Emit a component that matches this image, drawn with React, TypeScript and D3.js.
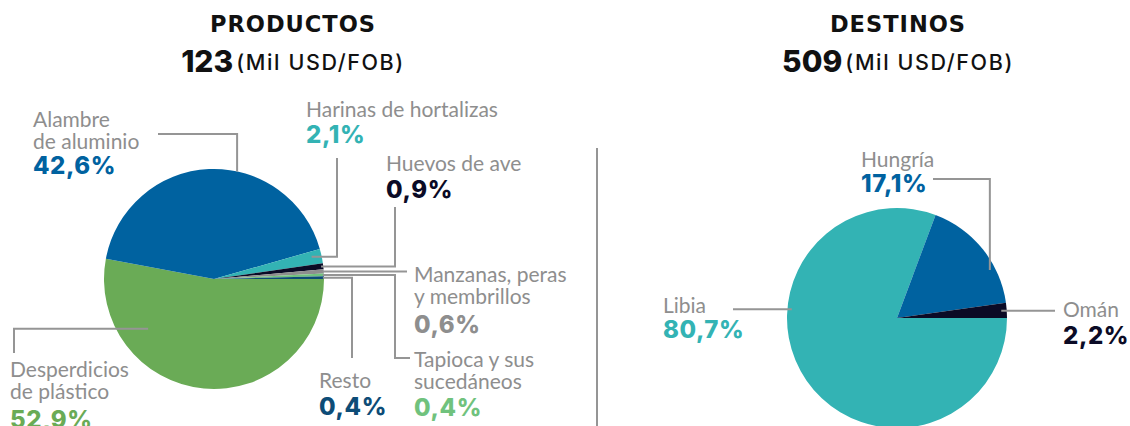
import React, { useEffect, useRef } from 'react';
import * as d3 from 'd3';

// Product breakdown (share of exports, %)
const productNames = [
  'Desperdicios\nde plástico',
  'Alambre\nde aluminio',
  'Harinas de hortalizas',
  'Huevos de ave',
  'Manzanas, peras\ny membrillos',
  'Tapioca y sus\nsucedáneos',
  'Resto',
];
const productShares = [52.9, 42.6, 2.1, 0.9, 0.6, 0.4, 0.4];
const productTotal = 123;

// Destination breakdown (share of exports, %)
const destinationNames = ['Libia', 'Hungría', 'Omán'];
const destinationShares = [80.7, 17.1, 2.2];
const destinationTotal = 509;

const unitLabel = '(Mil USD/FOB)';

// colours
const BLUE = '#0062a0';
const TEAL = '#33b3b4';
const NAVY = '#0b0b26';
const GREEN = '#6aab56';
const LIGHT_GREEN = '#70c27d';
const GREY = '#8e8e8e';
const DARK_BLUE = '#0d4c77';
const LINE = '#959595';

const productColors = [GREEN, BLUE, TEAL, NAVY, GREY, LIGHT_GREEN, DARK_BLUE];
const destinationColors = [TEAL, BLUE, NAVY];

type Step = ['x' | 'y', number];
interface LabelLayout {
  x: number;
  y: number;
  pctDy: number;
  t: number; // where along the slice the leader starts (0..1)
  r: number; // radius fraction of leader start
  steps: Step[];
}

const productLayout: LabelLayout[] = [
  { x: 10, y: 377, pctDy: 29, t: 0.75, r: 0.75, steps: [['x', 14], ['y', 353]] },
  { x: 33, y: 127, pctDy: 25, t: 0.596, r: 1.0, steps: [['y', 134], ['x', 158]] },
  { x: 306, y: 117, pctDy: 26, t: 0.4, r: 0.91, steps: [['x', 337], ['y', 158]] },
  { x: 386, y: 171, pctDy: 27, t: 0.5, r: 0.98, steps: [['x', 395], ['y', 207]] },
  { x: 414, y: 282, pctDy: 29, t: 0.5, r: 0.99, steps: [['x', 407]] },
  { x: 414, y: 367, pctDy: 27, t: 0.5, r: 0.99, steps: [['x', 395], ['y', 358], ['x', 410]] },
  { x: 319, y: 388, pctDy: 27, t: 0.5, r: 0.99, steps: [['x', 352], ['y', 358]] },
];

const destinationLayout: LabelLayout[] = [
  { x: 663, y: 313, pctDy: 25, t: 0.636, r: 0.96, steps: [['x', 733]] },
  { x: 861, y: 167, pctDy: 25, t: 0.685, r: 0.95, steps: [['y', 179], ['x', 933]] },
  { x: 1063, y: 317, pctDy: 27, t: 0.5, r: 0.95, steps: [['x', 1055]] },
];

const LABEL_FONT = 'Lato, "Open Sans", sans-serif';
const BOLD_FONT = 'Inter, "DejaVu Sans", sans-serif';
const TITLE_FONT = '"DejaVu Sans", Inter, sans-serif';

const locale = d3.formatLocale({ decimal: ',', thousands: '.', grouping: [3], currency: ['', ''] });
const fmtPct = (v: number) => locale.format('.1f')(v) + '%';

const App: React.FC = () => {
  const svgRef = useRef<SVGSVGElement>(null);

  useEffect(() => {
    if (!svgRef.current) return;
    const width = 1130;
    const height = 426;
    const svg = d3.select(svgRef.current);
    svg.attr('width', width).attr('height', height);
    svg.selectAll('*').remove();

    const radius = 110;

    const drawPie = (
      cx: number,
      cy: number,
      names: string[],
      shares: number[],
      colors: string[],
      layout: LabelLayout[],
    ) => {
      const rows = names.map((n, i) => ({ name: n, value: shares[i], color: colors[i], layout: layout[i] }));
      const pie = d3
        .pie<typeof rows[number]>()
        .sort(null)
        .value(d => d.value)
        .startAngle(Math.PI / 2)
        .endAngle(Math.PI / 2 + 2 * Math.PI);
      const arcs = pie(rows);
      const arc = d3.arc<d3.PieArcDatum<typeof rows[number]>>().innerRadius(0).outerRadius(radius);

      const g = svg.append('g').attr('transform', `translate(${cx},${cy})`);
      g.selectAll('path.slice')
        .data(arcs)
        .enter()
        .append('path')
        .attr('class', 'slice')
        .attr('d', arc)
        .attr('fill', d => d.data.color);

      // leader lines
      arcs.forEach(a => {
        const L = a.data.layout;
        const ang = a.startAngle + (a.endAngle - a.startAngle) * L.t;
        let px = cx + Math.sin(ang) * radius * L.r;
        let py = cy - Math.cos(ang) * radius * L.r;
        const pts: [number, number][] = [[px, py]];
        L.steps.forEach(([axis, v]) => {
          if (axis === 'x') px = v;
          else py = v;
          pts.push([px, py]);
        });
        svg
          .append('path')
          .attr('d', d3.line()(pts))
          .attr('fill', 'none')
          .attr('stroke', LINE)
          .attr('stroke-width', 2);
      });

      // labels
      arcs.forEach(a => {
        const L = a.data.layout;
        const lines = a.data.name.split('\n');
        const txt = svg
          .append('text')
          .attr('x', L.x)
          .attr('y', L.y)
          .style('font-family', LABEL_FONT)
          .style('font-size', '21px')
          .style('fill', GREY);
        lines.forEach((ln, i) => {
          txt.append('tspan').attr('x', L.x).attr('dy', i === 0 ? 0 : 21.5).text(ln);
        });
        svg
          .append('text')
          .attr('x', L.x)
          .attr('y', L.y + (lines.length - 1) * 21.5 + L.pctDy)
          .style('font-family', BOLD_FONT)
          .style('font-weight', 800)
          .style('font-size', '24px')
          .style('letter-spacing', '0.6px')
          .style('fill', a.data.color)
          .text(fmtPct(a.data.value));
      });
    };

    const drawTitle = (cx: number, title: string, total: number) => {
      svg
        .append('text')
        .attr('x', cx)
        .attr('y', 32)
        .attr('text-anchor', 'middle')
        .style('font-family', TITLE_FONT)
        .style('font-weight', 700)
        .style('font-size', '22.5px')
        .style('letter-spacing', '1px')
        .style('fill', '#111')
        .text(title);
      const sub = svg
        .append('text')
        .attr('x', cx)
        .attr('y', 72)
        .attr('text-anchor', 'middle')
        .style('fill', '#111');
      sub
        .append('tspan')
        .style('font-family', BOLD_FONT)
        .style('font-weight', 800)
        .style('font-size', '30px')
        .text(String(total));
      sub
        .append('tspan')
        .attr('dx', 3)
        .attr('dy', -2)
        .style('font-family', BOLD_FONT)
        .style('font-weight', 500)
        .style('font-size', '21.5px')
        .style('letter-spacing', '1.6px')
        .text(unitLabel);
    };

    drawTitle(293, 'PRODUCTOS', productTotal);
    drawTitle(898, 'DESTINOS', destinationTotal);

    drawPie(214, 279, productNames, productShares, productColors, productLayout);
    drawPie(897, 318, destinationNames, destinationShares, destinationColors, destinationLayout);

    // divider
    svg
      .append('line')
      .attr('x1', 597)
      .attr('x2', 597)
      .attr('y1', 148)
      .attr('y2', height)
      .attr('stroke', LINE)
      .attr('stroke-width', 2);
  }, []);

  return (
    <svg
      ref={svgRef}
      style={{ position: 'absolute', left: 0, top: 0, display: 'block', background: '#fff' }}
    />
  );
};

export default App;
